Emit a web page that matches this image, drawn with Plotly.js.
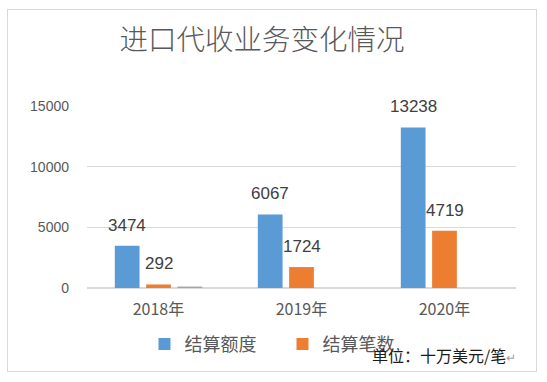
<!DOCTYPE html>
<html>
<head>
<meta charset="utf-8">
<script src="https://cdn.plot.ly/plotly-3.0.1.min.js"></script>
<style>
html,body{margin:0;padding:0;background:#fff;}
#wrap{position:relative;width:547px;height:382px;}
#chart{position:absolute;left:0;top:0;width:547px;height:382px;}
#frame{position:absolute;left:7px;top:9px;width:528px;height:361px;border:1.5px solid #d9d9d9;pointer-events:none;}
</style>
</head>
<body>
<div id="wrap"><div id="chart"></div><div id="frame"></div></div>
<script>
const categories = ['2018年', '2019年', '2020年'];
const amount = [3474, 6067, 13238];   // 结算额度
const count = [292, 1724, 4719];      // 结算笔数
const other = [120, 0, 0];            // unnamed grey series
const seriesNames = ['结算额度', '结算笔数', ''];
const titleText = '进口代收业务变化情况';
const unitText = '单位：十万美元/笔';

const colors = ['#5b9bd5', '#ed7d31', '#a5a5a5'];
const numFont = 'Liberation Sans, Noto Sans CJK SC, sans-serif';
const cjkFont = 'Noto Sans CJK SC, Liberation Sans, sans-serif';

const bargap = 0.343, bargroupgap = 0.21;
const seriesList = [amount, count, other];

const traces = seriesList.map((vals, k) => ({
  type: 'bar',
  name: seriesNames[k],
  x: categories,
  y: vals,
  marker: {color: colors[k]},
  showlegend: k < 2,
  hoverinfo: 'x+y'
}));

// data labels for the two named series, placed through the axis scales
const annotations = [];
const slot = (1 - bargap) / 3;
[amount, count].forEach((vals, k) => {
  vals.forEach((v, i) => {
    annotations.push({
      x: i + (k - 1) * slot, xref: 'x',
      y: v, yref: 'y',
      text: String(v),
      showarrow: false,
      xanchor: 'center', yanchor: 'bottom',
      yshift: 9,
      font: {family: numFont, size: 17, color: '#404040'}
    });
  });
});
annotations.push({
  xref: 'paper', yref: 'paper', x: 1.004, y: -0.37,
  xanchor: 'right', yanchor: 'middle',
  text: unitText + '<span style="color:#a0a0a0;font-size:12px">↵</span>',
  showarrow: false,
  font: {family: cjkFont, size: 16, color: '#1a1a1a'}
});

const layout = {
  width: 547, height: 382,
  margin: {l: 87, r: 31, t: 106, b: 94, pad: 0},
  paper_bgcolor: '#ffffff', plot_bgcolor: '#ffffff',
  title: {
    text: titleText,
    font: {family: cjkFont, size: 28.5, color: '#595959', weight: 300},
    x: 0.479, xanchor: 'center', y: 0.895, yanchor: 'middle'
  },
  barmode: 'group', bargap: bargap, bargroupgap: bargroupgap,
  xaxis: {
    type: 'category',
    showgrid: false, showline: false, zeroline: false,
    ticks: '', ticklabelstandoff: 10,
    tickfont: {family: cjkFont, size: 16, color: '#595959'}
  },
  yaxis: {
    range: [0, 15000], dtick: 5000, tick0: 0, tickformat: 'd',
    showgrid: true, gridcolor: '#d9d9d9', gridwidth: 1.2,
    zeroline: true, zerolinecolor: '#d9d9d9', zerolinewidth: 1.2,
    showline: false, ticks: '', ticklabelstandoff: 17,
    tickfont: {family: numFont, size: 14, color: '#595959'}
  },
  legend: {
    orientation: 'h', x: 0.134, xanchor: 'left', y: -0.31, yanchor: 'middle',
    font: {family: cjkFont, size: 18, color: '#595959'},
    bgcolor: 'rgba(0,0,0,0)', entrywidth: 93, itemwidth: 30
  },
  annotations: annotations
};

Plotly.newPlot('chart', traces, layout, {displayModeBar: false, staticPlot: true});
</script>
</body>
</html>
